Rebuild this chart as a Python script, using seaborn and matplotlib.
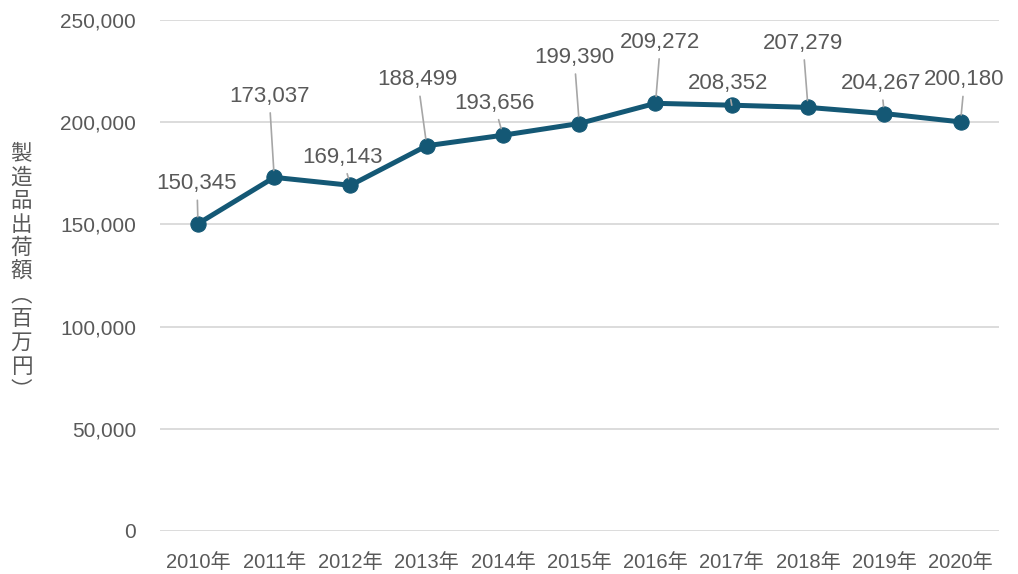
import matplotlib
matplotlib.use('Agg')
import matplotlib.pyplot as plt
import seaborn as sns
import pandas as pd

# データ
years = ['2010年', '2011年', '2012年', '2013年', '2014年', '2015年',
         '2016年', '2017年', '2018年', '2019年', '2020年']
shipments = [150345, 173037, 169143, 188499, 193656, 199390,
             209272, 208352, 207279, 204267, 200180]

# ラベルの位置 (ピクセル単位のオフセット)
label_offsets = [(-1, 40), (-5, 81), (-8, 28), (-9, 66), (-9, 32), (-5, 66),
                 (5, 61), (-4, 22), (-5, 64), (-3, 30), (4, 42)]

df = pd.DataFrame({'year': years, 'value': shipments})

sns.set_theme(style='white')
plt.rcParams['font.family'] = ['Liberation Sans', 'Noto Sans CJK JP']

fig = plt.figure(figsize=(10.18, 5.74), dpi=100)
ax = fig.add_axes([0.157, 0.075, 0.824, 0.89])

line_color = '#145875'
text_color = '#595959'

sns.lineplot(data=df, x='year', y='value', ax=ax, color=line_color,
             linewidth=3.6, marker='o', markersize=11,
             markeredgecolor=line_color, sort=False)

for i, (v, off) in enumerate(zip(shipments, label_offsets)):
    ax.annotate(f'{v:,}', xy=(i, v), xytext=off, textcoords='offset pixels',
                ha='center', va='center', fontsize=16, color=text_color,
                arrowprops=dict(arrowstyle='-', color='#a6a6a6', lw=1.2,
                                shrinkA=2, shrinkB=5))

ax.set_ylim(0, 250000)
ax.set_xlim(-0.5, len(years) - 0.5)
ax.set_yticks(range(0, 250001, 50000))
ax.yaxis.set_major_formatter(matplotlib.ticker.FuncFormatter(lambda v, p: f'{int(v):,}'))
ax.grid(axis='y', color='#d9d9d9', linewidth=1.3)
ax.grid(axis='x', visible=False)
sns.despine(ax=ax, left=True, bottom=True)
ax.tick_params(axis='y', labelsize=15, colors=text_color, pad=17, length=0)
ax.tick_params(axis='x', labelsize=14.5, colors=text_color, pad=16, length=0)
ax.set_xlabel('')
ax.set_ylabel('')

# 縦書きの軸ラベル
fig.text(0.021, 0.526, '\n'.join('製造品出荷額︵百万円︶'), ha='center', va='center',
         fontsize=15.5, color=text_color, linespacing=1.1,
         family=['Noto Sans CJK JP', 'DejaVu Sans'])

plt.savefig('out.png', dpi=100)
plt.close()
